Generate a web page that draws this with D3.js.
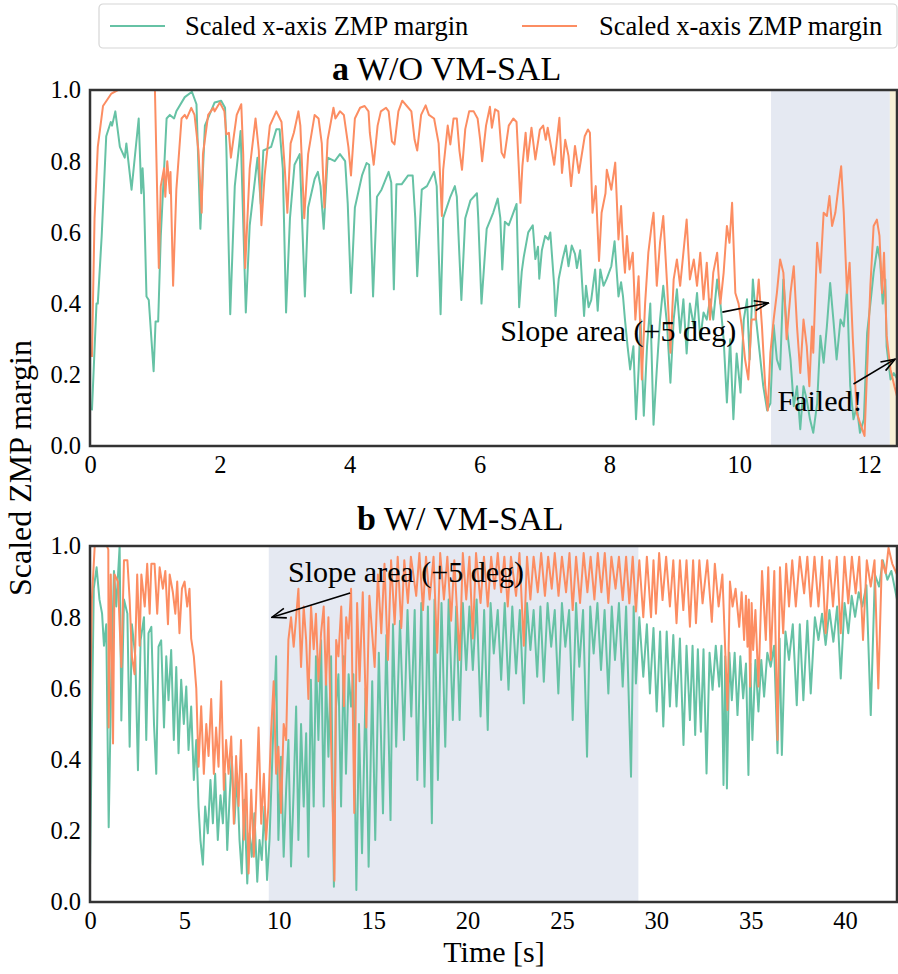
<!DOCTYPE html>
<html><head><meta charset="utf-8">
<script src="https://cdn.jsdelivr.net/npm/d3@7"></script>
<style>
body{margin:0;background:#fff}
svg{display:block}
text{font-family:"Liberation Serif","Times New Roman",serif;fill:#000}
</style>
</head><body>
<svg id="chart" width="898" height="974"></svg>
<script>
// ---------- DATA ----------
const seriesLabels = ["Scaled x-axis ZMP margin", "Scaled x-axis ZMP margin"];
const seriesColors = ["#66c2a5", "#fc8d62"];
const panelTitles = [["a", " W/O VM-SAL"], ["b", " W/ VM-SAL"]];
const yTicks = [0, 0.2, 0.4, 0.6, 0.8, 1.0];
const aXTicks = [0, 2, 4, 6, 8, 10, 12];
const bXTicks = [0, 5, 10, 15, 20, 25, 30, 35, 40];
const aXMax = 12.43;
const bXMax = 42.75;
const aSlope = [10.49, 12.32];
const aFailed = [12.32, 12.43];
const bSlope = [9.47, 29.05];

// panel a: [time s, scaled margin]
const aGreen = [[0.03,0.10],[0.10,0.40],[0.12,0.40],[0.18,0.59],[0.25,0.87],[0.32,0.91],[0.34,0.90],[0.39,0.94],[0.46,0.84],[0.535,0.81],[0.56,0.85],[0.64,0.72],[0.75,0.92],[0.79,0.71],[0.81,0.78],[0.83,0.71],[0.87,0.42],[0.905,0.41],[0.98,0.21],[1.01,0.35],[1.05,0.35],[1.09,0.59],[1.18,0.92],[1.23,0.93],[1.295,0.92],[1.33,0.94],[1.46,0.98],[1.57,0.995],[1.64,0.96],[1.70,0.61],[1.77,0.90],[1.92,0.965],[2.02,0.97],[2.08,0.95],[2.10,0.84],[2.16,0.37],[2.23,0.73],[2.32,0.885],[2.40,0.375],[2.46,0.62],[2.58,0.81],[2.63,0.68],[2.67,0.83],[2.79,0.84],[2.87,0.89],[2.92,0.89],[2.97,0.78],[3.02,0.375],[3.08,0.64],[3.15,0.79],[3.23,0.82],[3.31,0.42],[3.36,0.67],[3.46,0.75],[3.51,0.77],[3.55,0.73],[3.60,0.61],[3.66,0.81],[3.77,0.80],[3.85,0.82],[3.93,0.80],[3.97,0.68],[4.02,0.43],[4.08,0.67],[4.19,0.76],[4.26,0.795],[4.30,0.79],[4.36,0.42],[4.42,0.70],[4.49,0.72],[4.60,0.77],[4.64,0.74],[4.68,0.44],[4.72,0.735],[4.80,0.735],[4.90,0.76],[4.97,0.76],[5.01,0.64],[5.04,0.477],[5.11,0.72],[5.19,0.73],[5.30,0.77],[5.34,0.73],[5.40,0.37],[5.44,0.64],[5.55,0.70],[5.62,0.73],[5.65,0.70],[5.72,0.41],[5.78,0.64],[5.86,0.69],[5.96,0.71],[5.98,0.64],[6.03,0.40],[6.11,0.61],[6.21,0.655],[6.28,0.695],[6.32,0.64],[6.35,0.496],[6.39,0.63],[6.45,0.62],[6.52,0.655],[6.57,0.68],[6.61,0.39],[6.65,0.49],[6.68,0.53],[6.75,0.60],[6.82,0.62],[6.86,0.525],[6.90,0.56],[6.92,0.47],[6.96,0.55],[7.01,0.59],[7.06,0.58],[7.09,0.60],[7.15,0.45],[7.17,0.365],[7.22,0.47],[7.28,0.525],[7.33,0.563],[7.37,0.505],[7.42,0.563],[7.47,0.54],[7.50,0.50],[7.55,0.55],[7.61,0.365],[7.64,0.45],[7.68,0.39],[7.72,0.41],[7.78,0.496],[7.82,0.38],[7.86,0.496],[7.91,0.45],[7.96,0.47],[8.03,0.505],[8.08,0.575],[8.14,0.42],[8.18,0.46],[8.21,0.42],[8.24,0.355],[8.28,0.28],[8.32,0.215],[8.37,0.28],[8.41,0.075],[8.45,0.215],[8.48,0.355],[8.53,0.085],[8.58,0.28],[8.63,0.40],[8.68,0.06],[8.73,0.215],[8.78,0.355],[8.83,0.45],[8.89,0.336],[8.94,0.178],[8.99,0.355],[9.04,0.44],[9.09,0.318],[9.14,0.412],[9.19,0.26],[9.24,0.40],[9.30,0.336],[9.35,0.43],[9.40,0.30],[9.45,0.375],[9.50,0.355],[9.55,0.412],[9.60,0.355],[9.66,0.468],[9.71,0.40],[9.76,0.30],[9.81,0.122],[9.86,0.30],[9.91,0.075],[9.96,0.26],[10.02,0.15],[10.07,0.355],[10.12,0.412],[10.16,0.243],[10.21,0.468],[10.26,0.355],[10.31,0.27],[10.37,0.168],[10.43,0.10],[10.48,0.12],[10.53,0.34],[10.58,0.243],[10.63,0.215],[10.68,0.468],[10.73,0.336],[10.79,0.243],[10.84,0.112],[10.89,0.168],[10.94,0.047],[10.99,0.168],[11.04,0.13],[11.09,0.075],[11.14,0.037],[11.20,0.12],[11.25,0.31],[11.30,0.234],[11.35,0.336],[11.40,0.458],[11.45,0.355],[11.50,0.243],[11.56,0.355],[11.61,0.336],[11.66,0.44],[11.71,0.168],[11.76,0.075],[11.81,0.112],[11.86,0.037],[11.92,0.075],[11.97,0.318],[12.02,0.40],[12.07,0.487],[12.13,0.56],[12.17,0.52],[12.21,0.40],[12.25,0.468],[12.27,0.28],[12.33,0.187],[12.38,0.205],[12.43,0.19]];

const aOrange = [[0.03,0.25],[0.07,0.64],[0.12,0.84],[0.20,0.955],[0.33,0.99],[0.43,1.0],[0.97,1.0],[1.0,1.0],[1.06,0.50],[1.09,0.73],[1.14,0.78],[1.16,0.70],[1.19,0.80],[1.23,0.71],[1.24,0.77],[1.28,0.45],[1.33,0.72],[1.41,0.92],[1.46,0.93],[1.49,0.92],[1.56,0.95],[1.61,0.93],[1.67,0.83],[1.72,0.655],[1.74,0.82],[1.82,0.93],[1.90,0.95],[1.92,0.94],[2.0,0.965],[2.07,0.94],[2.10,0.875],[2.14,0.88],[2.17,0.81],[2.26,0.93],[2.33,0.96],[2.36,0.82],[2.39,0.50],[2.46,0.78],[2.55,0.92],[2.60,0.83],[2.64,0.62],[2.69,0.76],[2.77,0.90],[2.87,0.94],[2.95,0.91],[3.0,0.78],[3.04,0.655],[3.09,0.85],[3.14,0.88],[3.21,0.94],[3.24,0.90],[3.30,0.64],[3.36,0.82],[3.46,0.93],[3.52,0.92],[3.57,0.85],[3.61,0.67],[3.66,0.86],[3.75,0.95],[3.78,0.92],[3.85,0.94],[3.91,0.93],[3.98,0.84],[4.02,0.76],[4.08,0.92],[4.16,0.95],[4.23,0.955],[4.29,0.94],[4.31,0.88],[4.37,0.79],[4.43,0.90],[4.48,0.94],[4.56,0.95],[4.60,0.94],[4.65,0.856],[4.69,0.847],[4.75,0.94],[4.81,0.97],[4.88,0.955],[4.95,0.94],[5.0,0.86],[5.04,0.83],[5.10,0.93],[5.17,0.957],[5.22,0.93],[5.30,0.92],[5.37,0.85],[5.42,0.646],[5.44,0.776],[5.51,0.90],[5.55,0.847],[5.60,0.92],[5.65,0.92],[5.69,0.83],[5.73,0.776],[5.78,0.89],[5.84,0.94],[5.91,0.94],[5.97,0.92],[6.01,0.86],[6.04,0.80],[6.10,0.90],[6.16,0.953],[6.19,0.894],[6.24,0.946],[6.29,0.94],[6.34,0.824],[6.38,0.81],[6.45,0.90],[6.52,0.92],[6.57,0.91],[6.60,0.80],[6.63,0.683],[6.66,0.786],[6.71,0.88],[6.74,0.80],[6.80,0.894],[6.86,0.805],[6.93,0.889],[6.98,0.90],[7.02,0.86],[7.05,0.894],[7.10,0.843],[7.15,0.79],[7.23,0.922],[7.27,0.767],[7.32,0.86],[7.37,0.815],[7.41,0.73],[7.47,0.843],[7.53,0.767],[7.62,0.87],[7.67,0.889],[7.70,0.88],[7.74,0.655],[7.79,0.73],[7.84,0.52],[7.88,0.655],[7.94,0.71],[7.96,0.776],[8.03,0.72],[8.09,0.796],[8.14,0.58],[8.18,0.674],[8.21,0.56],[8.24,0.487],[8.27,0.59],[8.31,0.496],[8.36,0.543],[8.40,0.355],[8.45,0.477],[8.50,0.187],[8.55,0.40],[8.60,0.543],[8.65,0.618],[8.68,0.655],[8.73,0.45],[8.78,0.571],[8.83,0.646],[8.89,0.45],[8.94,0.262],[8.99,0.468],[9.04,0.524],[9.09,0.45],[9.14,0.543],[9.19,0.636],[9.24,0.468],[9.30,0.524],[9.35,0.45],[9.40,0.543],[9.45,0.412],[9.50,0.515],[9.55,0.355],[9.60,0.487],[9.66,0.543],[9.71,0.40],[9.76,0.487],[9.81,0.618],[9.85,0.571],[9.89,0.683],[9.94,0.43],[9.99,0.40],[10.04,0.336],[10.09,0.243],[10.14,0.187],[10.19,0.355],[10.25,0.355],[10.30,0.468],[10.35,0.336],[10.40,0.168],[10.44,0.10],[10.48,0.262],[10.53,0.355],[10.58,0.43],[10.63,0.524],[10.68,0.487],[10.73,0.30],[10.79,0.43],[10.84,0.505],[10.89,0.336],[10.94,0.205],[10.99,0.355],[11.04,0.28],[11.08,0.168],[11.12,0.336],[11.14,0.262],[11.20,0.571],[11.25,0.487],[11.30,0.655],[11.35,0.646],[11.39,0.702],[11.43,0.618],[11.48,0.655],[11.53,0.73],[11.57,0.786],[11.61,0.655],[11.66,0.43],[11.70,0.515],[11.75,0.30],[11.81,0.093],[11.86,0.065],[11.93,0.028],[11.98,0.262],[12.02,0.45],[12.07,0.618],[12.12,0.636],[12.16,0.59],[12.20,0.43],[12.23,0.543],[12.27,0.31],[12.33,0.215],[12.39,0.168],[12.43,0.14]];

// panel b: [time s, scaled margin]
const bGreen = [[0,0.10],[0.2,0.88],[0.35,0.94],[0.5,0.85],[0.64,0.81],[0.74,0.72],[0.86,0.78],[0.99,0.21],[1.13,0.64],[1.27,0.93],[1.39,0.83],[1.57,1.0],[1.66,0.51],[1.8,0.85],[1.98,0.81],[2.1,0.436],[2.22,0.78],[2.4,0.69],[2.54,0.37],[2.68,0.735],[2.86,0.80],[2.98,0.455],[3.1,0.755],[3.25,0.773],[3.39,0.50],[3.51,0.36],[3.63,0.717],[3.77,0.735],[3.92,0.49],[4.04,0.69],[4.16,0.567],[4.3,0.708],[4.44,0.455],[4.57,0.66],[4.69,0.418],[4.83,0.624],[4.97,0.50],[5.1,0.605],[5.22,0.427],[5.36,0.549],[5.5,0.343],[5.63,0.455],[5.75,0.268],[5.85,0.174],[5.98,0.105],[6.1,0.268],[6.24,0.193],[6.38,0.343],[6.51,0.221],[6.63,0.36],[6.77,0.174],[6.91,0.30],[7.04,0.221],[7.16,0.36],[7.27,0.146],[7.39,0.287],[7.51,0.408],[7.65,0.221],[7.79,0.36],[7.92,0.174],[8.04,0.08],[8.18,0.287],[8.33,0.052],[8.45,0.193],[8.57,0.127],[8.71,0.249],[8.86,0.057],[8.98,0.174],[9.1,0.118],[9.24,0.268],[9.38,0.062],[9.51,0.174],[9.63,0.36],[9.74,0.53],[9.86,0.69],[9.98,0.174],[10.12,0.408],[10.26,0.127],[10.39,0.315],[10.51,0.455],[10.65,0.10],[10.79,0.315],[10.92,0.549],[11.04,0.174],[11.18,0.50],[11.32,0.268],[11.45,0.474],[11.57,0.127],[11.7,0.624],[11.85,0.268],[11.97,0.69],[12.1,0.455],[12.24,0.735],[12.38,0.268],[12.5,0.64],[12.63,0.408],[12.77,0.69],[12.92,0.043],[13.03,0.549],[13.16,0.64],[13.3,0.268],[13.44,0.69],[13.56,0.36],[13.7,0.64],[13.83,0.549],[13.95,0.64],[14.11,0.034],[14.25,0.50],[14.41,0.137],[14.6,0.60],[14.76,0.099],[14.95,0.62],[15.11,0.174],[15.3,0.70],[15.52,0.249],[15.7,0.75],[15.92,0.230],[16.05,0.78],[16.22,0.436],[16.42,0.79],[16.63,0.455],[16.82,0.82],[17.02,0.521],[17.2,0.82],[17.34,0.343],[17.55,0.84],[17.72,0.324],[17.9,0.83],[18.11,0.221],[18.25,0.85],[18.43,0.343],[18.62,0.84],[18.82,0.436],[19.0,0.85],[19.22,0.511],[19.4,0.83],[19.58,0.511],[19.75,0.84],[19.93,0.652],[20.1,0.83],[20.28,0.652],[20.48,0.85],[20.69,0.521],[20.88,0.82],[21.07,0.483],[21.22,0.84],[21.39,0.698],[21.6,0.82],[21.78,0.624],[21.97,0.84],[22.17,0.596],[22.37,0.83],[22.57,0.642],[22.77,0.82],[22.98,0.558],[23.15,0.84],[23.33,0.708],[23.5,0.82],[23.69,0.633],[23.86,0.83],[24.04,0.619],[24.24,0.84],[24.43,0.717],[24.62,0.82],[24.81,0.586],[25.0,0.84],[25.18,0.717],[25.38,0.82],[25.57,0.511],[25.75,0.84],[25.92,0.661],[26.12,0.82],[26.33,0.408],[26.5,0.83],[26.68,0.698],[26.88,0.84],[27.07,0.652],[27.26,0.82],[27.46,0.586],[27.64,0.83],[27.81,0.680],[28.02,0.84],[28.22,0.605],[28.4,0.83],[28.66,0.352],[28.8,0.83],[28.92,0.614],[29.1,0.80],[29.31,0.633],[29.5,0.78],[29.66,0.586],[29.85,0.77],[30.02,0.535],[30.2,0.76],[30.37,0.493],[30.55,0.76],[30.72,0.549],[30.9,0.75],[31.07,0.549],[31.25,0.74],[31.44,0.441],[31.6,0.72],[31.78,0.511],[31.92,0.72],[32.06,0.469],[32.2,0.71],[32.36,0.478],[32.5,0.71],[32.66,0.361],[32.82,0.70],[32.98,0.596],[33.15,0.72],[33.33,0.605],[33.45,0.72],[33.56,0.329],[33.65,0.69],[33.74,0.319],[33.87,0.70],[34.0,0.567],[34.15,0.70],[34.3,0.525],[34.45,0.69],[34.6,0.572],[34.75,0.67],[34.88,0.357],[34.98,0.67],[35.09,0.455],[35.25,0.68],[35.41,0.535],[35.56,0.68],[35.71,0.577],[35.88,0.70],[36.06,0.661],[36.24,0.72],[36.42,0.418],[36.53,0.74],[36.65,0.413],[36.84,0.76],[37.03,0.680],[37.23,0.78],[37.44,0.553],[37.6,0.78],[37.79,0.567],[38.0,0.79],[38.18,0.586],[38.4,0.80],[38.59,0.736],[38.78,0.81],[38.97,0.722],[39.17,0.82],[39.38,0.731],[39.58,0.83],[39.77,0.628],[39.97,0.84],[40.17,0.755],[40.35,0.86],[40.53,0.801],[40.72,0.87],[40.91,0.830],[41.13,0.89],[41.36,0.525],[41.58,0.92],[41.80,0.886],[42.0,0.96],[42.24,0.905],[42.45,0.93],[42.75,0.85]];

const bOrange = [[0,0.50],[0.1,0.85],[0.25,1.0],[0.9,1.0],[0.97,0.99],[0.99,0.49],[1.1,0.92],[1.22,0.445],[1.3,0.92],[1.48,0.90],[1.66,0.66],[1.8,0.96],[1.98,0.96],[2.1,0.85],[2.22,0.69],[2.36,0.64],[2.5,0.92],[2.63,0.72],[2.72,0.92],[2.9,0.83],[3.03,0.95],[3.16,0.81],[3.25,0.95],[3.42,0.95],[3.56,0.81],[3.69,0.94],[3.86,0.88],[3.99,0.93],[4.13,0.78],[4.22,0.92],[4.39,0.87],[4.52,0.81],[4.62,0.90],[4.74,0.755],[4.87,0.88],[5.01,0.90],[5.15,0.83],[5.27,0.88],[5.36,0.74],[5.5,0.69],[5.63,0.60],[5.75,0.38],[5.89,0.55],[6.03,0.36],[6.16,0.50],[6.28,0.41],[6.42,0.57],[6.56,0.36],[6.68,0.49],[6.81,0.38],[6.95,0.62],[7.09,0.315],[7.21,0.455],[7.34,0.36],[7.48,0.465],[7.62,0.22],[7.74,0.41],[7.87,0.27],[8.0,0.455],[8.15,0.175],[8.27,0.36],[8.40,0.08],[8.54,0.315],[8.68,0.127],[8.8,0.287],[8.93,0.49],[9.07,0.22],[9.21,0.36],[9.33,0.175],[9.45,0.268],[9.59,0.474],[9.73,0.62],[9.86,0.36],[9.98,0.436],[10.12,0.25],[10.26,0.50],[10.39,0.455],[10.51,0.736],[10.65,0.80],[10.79,0.717],[10.92,0.80],[11.04,0.88],[11.18,0.66],[11.32,0.83],[11.45,0.736],[11.57,0.57],[11.71,0.83],[11.85,0.71],[11.97,0.81],[12.1,0.62],[12.24,0.755],[12.38,0.83],[12.5,0.61],[12.63,0.80],[12.77,0.45],[12.95,0.06],[13.04,0.736],[13.16,0.69],[13.31,0.83],[13.45,0.55],[13.57,0.80],[13.69,0.74],[13.83,0.88],[14.0,0.25],[14.15,0.84],[14.28,0.62],[14.45,0.87],[14.64,0.49],[14.8,0.86],[15.08,0.66],[15.25,0.92],[15.43,0.755],[15.6,0.95],[15.78,0.68],[15.95,0.96],[16.14,0.78],[16.3,0.97],[16.49,0.77],[16.65,0.96],[16.84,0.84],[17.0,0.97],[17.28,0.86],[17.45,0.98],[17.64,0.82],[17.8,0.97],[17.99,0.85],[18.2,0.97],[18.39,0.70],[18.55,0.98],[18.75,0.85],[18.93,0.97],[19.13,0.79],[19.3,0.96],[19.58,0.68],[19.75,0.98],[19.93,0.85],[20.1,0.97],[20.28,0.74],[20.45,0.98],[20.69,0.84],[20.87,0.97],[21.07,0.83],[21.25,0.97],[21.43,0.88],[21.6,0.98],[21.78,0.87],[21.95,0.97],[22.13,0.83],[22.3,0.97],[22.57,0.86],[22.75,0.98],[22.98,0.72],[23.15,0.97],[23.33,0.85],[23.5,0.97],[23.72,0.87],[23.9,0.98],[24.1,0.86],[24.27,0.97],[24.46,0.88],[24.62,0.98],[24.82,0.86],[25.0,0.97],[25.22,0.87],[25.4,0.98],[25.57,0.82],[25.75,0.97],[25.96,0.84],[26.15,0.98],[26.35,0.87],[26.52,0.97],[26.72,0.85],[26.9,0.98],[27.09,0.87],[27.27,0.98],[27.46,0.84],[27.62,0.97],[27.84,0.88],[28.02,0.97],[28.22,0.848],[28.4,0.97],[28.57,0.839],[28.75,0.97],[28.92,0.816],[29.1,0.96],[29.31,0.80],[29.5,0.97],[29.72,0.80],[29.85,0.96],[29.98,0.81],[30.15,0.98],[30.33,0.848],[30.52,0.97],[30.72,0.83],[30.9,0.96],[31.07,0.783],[31.25,0.96],[31.43,0.82],[31.6,0.96],[31.78,0.773],[31.95,0.96],[32.10,0.783],[32.28,0.96],[32.45,0.839],[32.7,0.96],[32.94,0.787],[33.1,0.95],[33.30,0.83],[33.5,0.92],[33.77,0.539],[33.9,0.90],[34.04,0.83],[34.2,0.88],[34.39,0.773],[34.52,0.87],[34.65,0.736],[34.75,0.86],[34.83,0.717],[34.9,0.85],[34.97,0.605],[35.05,0.84],[35.13,0.708],[35.25,0.82],[35.41,0.605],[35.6,0.93],[35.80,0.736],[35.93,0.94],[36.06,0.68],[36.25,0.93],[36.42,0.455],[36.55,0.94],[36.72,0.755],[36.88,0.95],[37.03,0.83],[37.2,0.96],[37.39,0.83],[37.6,0.97],[37.83,0.867],[38.0,0.97],[38.18,0.83],[38.38,0.97],[38.59,0.83],[38.78,0.97],[38.97,0.755],[39.17,0.96],[39.36,0.83],[39.56,0.97],[39.77,0.755],[39.97,0.97],[40.17,0.839],[40.36,0.97],[40.56,0.867],[40.75,0.97],[40.95,0.736],[41.15,0.96],[41.36,0.886],[41.56,0.96],[41.76,0.60],[41.95,0.96],[42.15,0.923],[42.3,0.995],[42.5,0.95],[42.75,0.92]];

// annotations in data coordinates
const aSlopeNote = {text: "Slope area (+5 deg)", at: [6.32, 0.295], from: [9.74, 0.376], to: [10.45, 0.402]};
const aFailNote = {text: "Failed!", at: [10.59, 0.098], from: [11.76, 0.174], to: [12.40, 0.244]};
const bSlopeNote = {text: "Slope area (+5 deg)", at: [10.49, 0.899], from: [13.78, 0.868], to: [9.64, 0.80]};

// ---------- DRAW ----------
const svg = d3.select("#chart");
const left = 90, right = 897;

const defs = svg.append("defs");
defs.append("marker").attr("id", "arr").attr("viewBox", "0 0 16 12")
  .attr("refX", 15).attr("refY", 6).attr("markerWidth", 16).attr("markerHeight", 12)
  .attr("markerUnits", "userSpaceOnUse").attr("orient", "auto")
  .append("path").attr("d", "M1,1 L15,6 L1,11").attr("fill", "none")
  .attr("stroke", "#000").attr("stroke-width", 1.6);

const panels = [
  {title: panelTitles[0], top: 90, bottom: 446, xmax: aXMax, xticks: aXTicks, green: aGreen, orange: aOrange,
   spans: [{r: aSlope, c: "#e5e9f2"}, {r: aFailed, c: "#f8f1d6"}], notes: [aSlopeNote, aFailNote], titleX: 332, titleY: 80},
  {title: panelTitles[1], top: 546, bottom: 902, xmax: bXMax, xticks: bXTicks, green: bGreen, orange: bOrange,
   spans: [{r: bSlope, c: "#e5e9f2"}], notes: [bSlopeNote], titleX: 357, titleY: 530}
];

panels.forEach((p, i) => {
  const x = d3.scaleLinear().domain([0, p.xmax]).range([left, right]);
  const y = d3.scaleLinear().domain([0, 1]).range([p.bottom, p.top]);
  const g = svg.append("g");
  const clipId = "clip" + i;
  defs.append("clipPath").attr("id", clipId).append("rect")
    .attr("x", left).attr("y", p.top - 2).attr("width", right - left).attr("height", p.bottom - p.top + 4);

  g.selectAll("rect.span").data(p.spans).enter().append("rect")
    .attr("x", d => x(d.r[0])).attr("width", d => x(d.r[1]) - x(d.r[0]))
    .attr("y", p.top).attr("height", p.bottom - p.top).attr("fill", d => d.c);

  const line = d3.line().x(d => x(d[0])).y(d => y(d[1]));
  const lg = g.append("g").attr("clip-path", `url(#${clipId})`);
  [[p.green, seriesColors[0]], [p.orange, seriesColors[1]]].forEach(([data, col]) => {
    lg.append("path").datum(data).attr("d", line).attr("fill", "none")
      .attr("stroke", col).attr("stroke-width", 2).attr("stroke-linejoin", "round");
  });

  // axes
  const yAxis = d3.axisLeft(y).tickValues(yTicks).tickFormat(d3.format(".1f")).tickSize(0).tickPadding(9);
  const ya = g.append("g").attr("transform", `translate(${left},0)`).call(yAxis);
  const xAxis = d3.axisBottom(x).tickValues(p.xticks).tickFormat(d3.format("d")).tickSize(0).tickPadding(10);
  const xa = g.append("g").attr("transform", `translate(0,${p.bottom})`).call(xAxis);
  [ya, xa].forEach(a => {
    a.select(".domain").remove();
    a.selectAll("text").attr("font-size", 24.5).attr("font-family", '"Liberation Serif", serif').attr("fill", "#000");
  });

  // frame
  g.append("rect").attr("x", left).attr("y", p.top).attr("width", right - left).attr("height", p.bottom - p.top)
    .attr("fill", "none").attr("stroke", "#333").attr("stroke-width", 2.5);

  // title
  const t = g.append("text").attr("x", p.titleX).attr("y", p.titleY).attr("font-size", 34);
  t.append("tspan").attr("font-weight", "bold").text(p.title[0]);
  t.append("tspan").text(p.title[1]);

  // annotations
  p.notes.forEach(n => {
    g.append("text").attr("x", x(n.at[0])).attr("y", y(n.at[1])).attr("font-size", 30).text(n.text);
    g.append("line").attr("x1", x(n.from[0])).attr("y1", y(n.from[1]))
      .attr("x2", x(n.to[0])).attr("y2", y(n.to[1]))
      .attr("stroke", "#000").attr("stroke-width", 1.6).attr("marker-end", "url(#arr)");
  });
});

// axis labels
svg.append("text").attr("transform", "translate(31,468) rotate(-90)").attr("text-anchor", "middle")
  .attr("font-size", 32).text("Scaled ZMP margin");
svg.append("text").attr("x", 494).attr("y", 962).attr("text-anchor", "middle")
  .attr("font-size", 30).text("Time [s]");

// legend
const leg = svg.append("g");
leg.append("rect").attr("x", 99).attr("y", 4).attr("width", 798).attr("height", 44).attr("rx", 4)
  .attr("fill", "#fff").attr("stroke", "#d6d6d6").attr("stroke-width", 1.2);
const legX = [[110, 185], [522, 599]];
seriesLabels.forEach((lab, i) => {
  leg.append("line").attr("x1", legX[i][0]).attr("x2", legX[i][0] + 55).attr("y1", 26).attr("y2", 26)
    .attr("stroke", seriesColors[i]).attr("stroke-width", 2);
  leg.append("text").attr("x", legX[i][1]).attr("y", 35).attr("font-size", 26.5).text(lab);
});
</script>
</body></html>
